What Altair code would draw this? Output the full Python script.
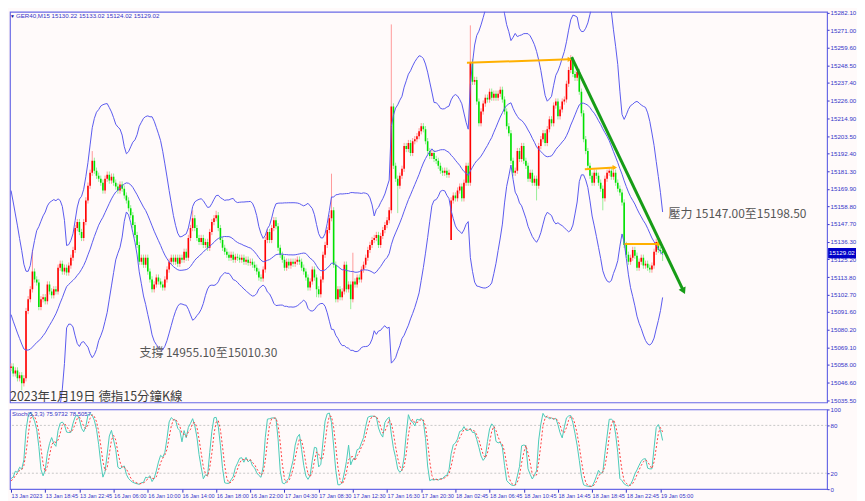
import math
import altair as alt
import pandas as pd
import numpy as np

# ---------------- data ----------------
# closes of bars left of the visible window (implied by the band widths at the left edge)
pre_closes = [15140, 15136, 15130, 15126, 15121, 15116, 15112, 15106, 15100, 15095,
              15090, 15084, 15080, 15074, 15070, 15066, 15062, 15060, 15058, 15056]

closes = [
    15056.9, 15052.5, 15054.4, 15049.4, 15051.3, 15046.2, 15049.4, 15092.2, 15099.7, 15106.0,
    15117.3, 15112.3, 15110.4, 15094.7, 15099.7, 15101.0, 15098.4, 15109.1, 15104.7, 15102.2,
    15106.0, 15104.7, 15119.8, 15122.3, 15117.3, 15119.8, 15116.7, 15121.1, 15126.1, 15131.1,
    15145.0, 15148.8, 15142.5, 15138.7, 15148.8, 15162.6, 15172.0, 15180.2, 15187.8, 15181.5,
    15178.3, 15176.4, 15173.9, 15168.9, 15176.4, 15179.0, 15175.2, 15177.7, 15173.9, 15171.4,
    15168.9, 15172.7, 15170.1, 15165.7, 15162.6, 15157.6, 15153.2, 15146.9, 15140.6, 15134.3,
    15123.6, 15126.1, 15121.7, 15126.1, 15117.3, 15112.3, 15106.0, 15109.1, 15113.5, 15111.0,
    15109.1, 15107.2, 15112.3, 15118.6, 15123.6, 15126.1, 15123.6, 15126.1, 15122.3, 15126.1,
    15124.9, 15129.9, 15126.1, 15138.7, 15145.0, 15151.3, 15145.0, 15138.7, 15136.2, 15138.7,
    15134.3, 15136.2, 15132.4, 15142.5, 15148.8, 15151.3, 15153.2, 15145.0, 15137.4, 15132.4,
    15129.9, 15128.0, 15126.1, 15128.0, 15124.9, 15126.7, 15126.1, 15124.9, 15126.1, 15123.6,
    15124.9, 15123.0, 15123.6, 15121.7, 15119.8, 15117.3, 15113.5, 15112.9, 15118.6, 15137.4,
    15142.5, 15137.4, 15145.0, 15150.0, 15146.2, 15132.4, 15128.0, 15124.9, 15119.8, 15123.6,
    15121.1, 15123.6, 15122.3, 15123.6, 15124.9, 15123.6, 15119.8, 15117.3, 15113.5, 15107.2,
    15111.0, 15118.6, 15113.5, 15106.0, 15102.8, 15112.3, 15128.0, 15134.3, 15143.7, 15151.3,
    15156.3, 15121.7, 15099.7, 15106.0, 15101.0, 15104.7, 15121.7, 15106.0, 15109.1, 15099.7,
    15111.0, 15109.1, 15113.5, 15112.3, 15118.6, 15121.7, 15126.1, 15131.1, 15134.3, 15137.4,
    15138.7, 15140.6, 15134.3, 15140.0, 15143.7, 15146.9, 15150.0, 15156.3, 15222.4, 15184.6,
    15176.4, 15172.0, 15178.3, 15182.7, 15197.2, 15195.3, 15199.1, 15192.8, 15200.3, 15201.6,
    15203.5, 15206.6, 15209.8, 15207.9, 15200.3, 15194.0, 15190.9, 15192.8, 15189.0, 15187.8,
    15184.6, 15181.5, 15180.2, 15181.5, 15179.0, 15180.2, 15162.6, 15165.7, 15163.9, 15168.9,
    15171.4, 15163.9, 15173.9, 15184.6, 15173.9, 15250.7, 15238.1, 15239.3, 15225.5, 15211.7,
    15219.2, 15224.2, 15228.0, 15226.8, 15231.8, 15228.0, 15230.5, 15228.0, 15230.5, 15233.0,
    15226.8, 15219.2, 15209.8, 15205.4, 15187.8, 15180.2, 15181.5, 15194.0, 15189.0, 15197.2,
    15187.8, 15184.6, 15176.4, 15180.2, 15173.9, 15176.4, 15172.0, 15197.2, 15201.6, 15205.4,
    15199.1, 15207.9, 15214.2, 15211.7, 15223.0, 15225.5, 15216.1, 15220.5, 15225.5, 15226.8,
    15236.8, 15245.6, 15251.9, 15243.1, 15240.6, 15244.4, 15231.8, 15218.0, 15201.6, 15194.0,
    15184.6, 15178.3, 15173.9, 15180.2, 15178.3, 15173.9, 15170.1, 15163.9, 15176.4, 15180.2,
    15181.5, 15177.7, 15180.2, 15173.9, 15170.1, 15167.6, 15161.3, 15134.3, 15128.0, 15123.6,
    15126.1, 15131.1, 15127.4, 15119.8, 15123.6, 15126.1, 15121.1, 15122.3, 15119.8, 15118.6,
    15121.1, 15129.9, 15136.2, 15131.1, 15130.22, 15129.02,
]

gap_opens = {0: 15056.0, 206: 15137.4, 305: 15130.22}
high_marks = {10: 15131.1, 38: 15194.0, 85: 15156.3, 96: 15156.0, 150: 15179.6, 160: 15129.3,
              178: 15274.6, 215: 15274.0, 262: 15255.1, 305: 15133.02}
low_marks = {5: 15041.8, 143: 15101.0, 159: 15093.4, 181: 15154.5, 206: 15137.4,
             246: 15162.6, 277: 15156.3, 305: 15124.02}
wick_pad = 2.0

bb_period = 20
bb_dev = 3
st_k, st_slow, st_d = 5, 3, 3

price_ticks = [15282.1, 15271.0, 15259.6, 15248.5, 15237.4, 15226.0, 15214.9, 15203.5,
               15192.4, 15181.3, 15169.9, 15158.8, 15147.7, 15136.3, 15125.2, 15113.8,
               15102.7, 15091.6, 15080.2, 15069.1, 15058.0, 15046.6, 15035.5]
time_labels = ["13 Jan 2023", "13 Jan 18:45", "13 Jan 22:45", "16 Jan 06:00", "16 Jan 10:00",
               "16 Jan 14:00", "16 Jan 18:00", "16 Jan 22:00", "17 Jan 04:30", "17 Jan 08:30",
               "17 Jan 12:30", "17 Jan 16:30", "17 Jan 20:30", "18 Jan 02:45", "18 Jan 06:45",
               "18 Jan 10:45", "18 Jan 14:45", "18 Jan 18:45", "18 Jan 22:45", "19 Jan 05:00"]
bars_per_label = 16

# drawn objects (bar index, price)
orange_x1 = [213.4, 268.6, 287.2]
orange_x2 = [261.6, 282.6, 303.6]
orange_y1 = [15250.2, 15182.5, 15134.9]
orange_y2 = [15252.4, 15183.5, 15134.9]
trend_x = [262.4, 314.8]
trend_y = [15253.8, 15104.9]

support_text = "支撐 14955.10至15010.30"
support_pos = (60.1, 15065.7)
resist_text = "壓力 15147.00至15198.50"
resist_pos = (307.8, 15153.8)
caption = "2023年1月19日 德指15分鐘K線"
header = "GER40,M15  15130.22 15133.02 15124.02 15129.02"
stoch_header = "Stoch(5,3,3) 75.9732 78.5057"

# ---------------- build OHLC + indicators ----------------
all_c = list(pre_closes) + list(closes)
npre = len(pre_closes)
opens, highs, lows = [], [], []
prev = pre_closes[0]
for k, c in enumerate(all_c):
    i = k - npre
    o = gap_opens.get(i, prev)
    h = high_marks.get(i, max(o, c) + wick_pad)
    l = low_marks.get(i, min(o, c) - wick_pad)
    opens.append(o); highs.append(max(h, o, c)); lows.append(min(l, o, c))
    prev = c

C = pd.Series(all_c, dtype=float)
H = pd.Series(highs, dtype=float)
L = pd.Series(lows, dtype=float)
mid = C.rolling(bb_period).mean()
sd = C.rolling(bb_period).std(ddof=0)
ll = L.rolling(st_k).min()
hh = H.rolling(st_k).max()
K = 100 * (C - ll).rolling(st_slow).sum() / (hh - ll).rolling(st_slow).sum()
D = K.rolling(st_d).mean()

df = pd.DataFrame({
    "i": np.arange(len(all_c)) - npre,
    "o": opens, "h": highs, "l": lows, "c": all_c,
    "mid": mid, "up": mid + bb_dev * sd, "lo": mid - bb_dev * sd, "K": K, "D": D,
})
df = df[df["i"] >= 0].reset_index(drop=True)

# ---------------- layout ----------------
W = 820
H1 = 392
H2 = 80
x_dom = [-0.5, 382.0]
y_dom = [15034.0, 15282.6]
BG = "#fffafa"
FRAME = "#6a6ae6"
AX = "#3434c8"
BAND = "#5a5aee"

xs = alt.Scale(domain=x_dom, nice=False, zero=False)
ys = alt.Scale(domain=y_dom, nice=False, zero=False)

y_axis = alt.Axis(orient="right", values=price_ticks, tickCount=len(price_ticks) + 10,
                  format=".2f", labelFontSize=6.2,
                  labelFont="Liberation Sans", labelColor=AX, tickColor=AX, tickSize=2,
                  labelPadding=1, domain=False, grid=False, title=None, labelOverlap=False)

up_cond = "datum.c >= datum.o"
base = alt.Chart(df)
wicks = base.mark_rule(strokeWidth=1, clip=True).encode(
    x=alt.X("i:Q", scale=xs, axis=None),
    y=alt.Y("l:Q", scale=ys, axis=y_axis),
    y2="h:Q",
    color=alt.condition(up_cond, alt.value("#ff9a9a"), alt.value("#98ee98")),
)
bodies = base.mark_rule(strokeWidth=1.6, clip=True).encode(
    x="i:Q", y="o:Q", y2="c:Q",
    color=alt.condition(up_cond, alt.value("#ff0000"), alt.value("#00e000")),
)
bands = [base.mark_line(color=BAND, strokeWidth=1, clip=True).encode(x="i:Q", y=f"{f}:Q")
         for f in ["up", "mid", "lo"]]

odf = pd.DataFrame({"x1": orange_x1, "x2": orange_x2, "y1": orange_y1, "y2": orange_y2})
orange = alt.Chart(odf).mark_rule(color="#ffb000", strokeWidth=2).encode(
    x="x1:Q", x2="x2:Q", y="y1:Q", y2="y2:Q")
orange_head = alt.Chart(odf).mark_point(shape="triangle-right", filled=True, size=28,
                                        color="#ffb000", opacity=1).encode(x="x2:Q", y="y2:Q")

tdf = pd.DataFrame({"x1": [trend_x[0]], "x2": [trend_x[1]], "y1": [trend_y[0]], "y2": [trend_y[1]]})
px_per_bar = W / (x_dom[1] - x_dom[0])
px_per_pt = H1 / (y_dom[1] - y_dom[0])
ang = math.degrees(math.atan2((trend_y[0] - trend_y[1]) * px_per_pt,
                              (trend_x[1] - trend_x[0]) * px_per_bar))
trend = alt.Chart(tdf).mark_rule(color="#169c16", strokeWidth=3).encode(
    x="x1:Q", x2="x2:Q", y="y1:Q", y2="y2:Q")
trend_head = alt.Chart(tdf).mark_point(shape="triangle-right", filled=True, size=60,
                                       color="#169c16", opacity=1, angle=ang).encode(x="x2:Q", y="y2:Q")

ann = pd.DataFrame({"t": [support_text, resist_text],
                    "x": [support_pos[0], resist_pos[0]],
                    "y": [support_pos[1], resist_pos[1]]})
ann_text = alt.Chart(ann).mark_text(align="left", baseline="middle", fontSize=12,
                                    font="Noto Sans CJK TC", color="#555555").encode(
    x="x:Q", y="y:Q", text="t:N")

cap = alt.Chart(pd.DataFrame({"t": [caption]})).mark_text(
    align="left", baseline="middle", fontSize=12.5, font="Noto Sans CJK TC", color="#3c3c3c"
).encode(x=alt.value(0), y=alt.value(H1 - 5), text="t:N")

head = alt.Chart(pd.DataFrame({"t": [header]})).mark_text(
    align="left", baseline="middle", fontSize=6.2, font="Liberation Sans", color=AX
).encode(x=alt.value(6), y=alt.value(4), text="t:N")
tri = alt.Chart(pd.DataFrame({"t": ["▼"]})).mark_text(
    align="left", baseline="middle", fontSize=5, color="#1010a0"
).encode(x=alt.value(0), y=alt.value(4), text="t:N")

last = pd.DataFrame({"p": [closes[-1]], "t": [f"{closes[-1]:.2f}"],
                     "pa": [closes[-1] + 3.3], "pb": [closes[-1] - 3.3]})
tag_box = alt.Chart(last).mark_rect(color="#0000c8").encode(
    x=alt.value(W + 1), x2=alt.value(W + 29), y="pa:Q", y2="pb:Q")
tag_txt = alt.Chart(last).mark_text(align="left", baseline="middle", fontSize=6.2,
                                    font="Liberation Sans", color="white").encode(
    x=alt.value(W + 2), y="p:Q", text="t:N")

main = alt.layer(wicks, bodies, *bands, orange, orange_head, trend, trend_head,
                 ann_text, cap, head, tri, tag_box, tag_txt).properties(width=W, height=H1)

# ---------------- stochastic panel ----------------
label_expr = "[" + ",".join(f"'{s}'" for s in time_labels) + f"][round(datum.value/{bars_per_label})]"
x_axis = alt.Axis(values=[k * bars_per_label for k in range(len(time_labels))], labelExpr=label_expr,
                  tickCount=len(time_labels) + 10,
                  labelAlign="left", labelFontSize=5.6, labelFont="Liberation Sans",
                  labelColor=AX, tickColor=AX, tickSize=3, labelPadding=1, domain=False,
                  grid=False, title=None, labelOverlap=False, labelFlush=False)
y2_axis = alt.Axis(orient="right", values=[0, 20, 80, 100], tickCount=10, labelFontSize=6.2,
                   labelFont="Liberation Sans", labelColor=AX, tickColor=AX, tickSize=2,
                   labelPadding=1, domain=False, grid=False, title=None, labelOverlap=False)
s_scale = alt.Scale(domain=[0, 100], nice=False)

levels = alt.Chart(pd.DataFrame({"v": [20, 80]})).mark_rule(
    color="#c8c8c8", strokeDash=[2, 2], strokeWidth=1).encode(
    y=alt.Y("v:Q", scale=s_scale, axis=y2_axis))
kline = base.mark_line(color="#4ccbb9", strokeWidth=1).encode(
    x=alt.X("i:Q", scale=xs, axis=x_axis), y=alt.Y("K:Q", scale=s_scale))
dline = base.mark_line(color="#ff4040", strokeWidth=1, strokeDash=[2, 2]).encode(
    x="i:Q", y="D:Q")
s_head = alt.Chart(pd.DataFrame({"t": [stoch_header]})).mark_text(
    align="left", baseline="middle", fontSize=6, font="Liberation Sans", color=AX
).encode(x=alt.value(2), y=alt.value(5), text="t:N")

stoch = alt.layer(levels, kline, dline, s_head).properties(width=W, height=H2)

chart = alt.vconcat(main, stoch, spacing=0).properties(
    padding={"left": 0, "top": 0, "right": 0, "bottom": 0}, background=BG
).configure_view(stroke=FRAME, strokeWidth=1.2, fill=BG).configure_axis(labelOverlap=False)

chart.save("out.html", embed_options={"renderer": "svg", "actions": False})
